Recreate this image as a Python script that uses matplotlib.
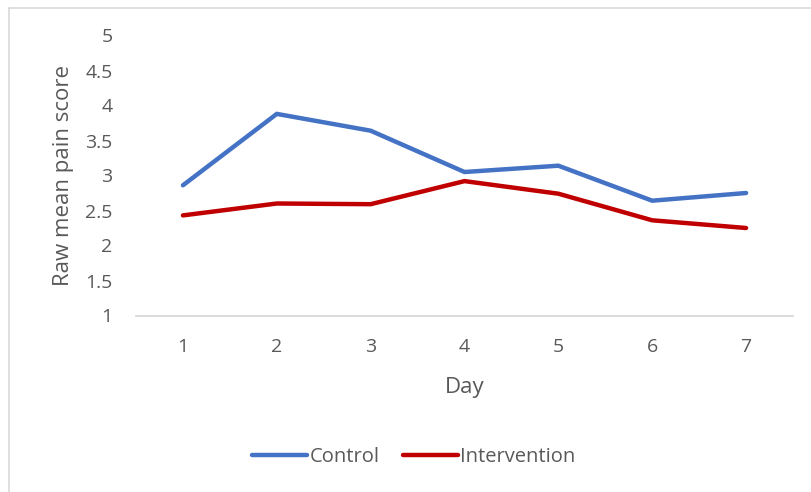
import numpy as np
import matplotlib.pyplot as plt
from matplotlib.lines import Line2D

# mean daily pain score per group
days = [1, 2, 3, 4, 5, 6, 7]
control = [2.86, 3.88, 3.64, 3.05, 3.14, 2.64, 2.75]
intervention = [2.43, 2.60, 2.59, 2.92, 2.74, 2.36, 2.25]
yticks = [1, 1.5, 2, 2.5, 3, 3.5, 4, 4.5, 5]

plt.rcParams['font.family'] = ['Open Sans', 'DejaVu Sans']
txt = '#595959'

fig = plt.figure(figsize=(8.11, 4.92), dpi=100)
ax = fig.add_axes([136/811, 1-315.5/492, (793-136)/811, (315.5-35.5)/492])

x = np.arange(len(days))
ax.plot(x, control, color='#4472C4', lw=3.2, solid_capstyle='round',
        solid_joinstyle='miter', label='Control')
ax.plot(x, intervention, color='#C00000', lw=3.2, solid_capstyle='round',
        solid_joinstyle='miter', label='Intervention')

ax.set_xlim(-0.5, len(days)-0.5)
ax.set_ylim(1, 5)
ax.set_xticks(x)
ax.set_xticklabels([str(d) for d in days])
ax.set_yticks(yticks)
ax.set_yticklabels(['%g' % v for v in yticks])
ax.tick_params(length=0, labelsize=14, colors=txt)
ax.tick_params(axis='x', pad=16)
ax.tick_params(axis='y', pad=17)
for s in ['top', 'right', 'left']:
    ax.spines[s].set_visible(False)
ax.spines['bottom'].set_color('#d9d9d9')
ax.spines['bottom'].set_linewidth(1.3)

ax.set_xlabel('Day', fontsize=16, color=txt, labelpad=15)
ax.set_ylabel('Raw mean pain score', fontsize=16, color=txt, labelpad=8)

handles = [Line2D([0], [0], color='#4472C4', lw=3.2, solid_capstyle='round'),
           Line2D([0], [0], color='#C00000', lw=3.2, solid_capstyle='round')]
leg = fig.legend(handles, ['Control', 'Intervention'], loc='center',
                 bbox_to_anchor=(414/811, 1-457/492), ncol=2, frameon=False,
                 fontsize=14.5, handlelength=2.7, handletextpad=0.12,
                 columnspacing=1.2)
for t in leg.get_texts():
    t.set_color(txt)

# chart frame edges
fig.add_artist(Line2D([8.5/811, 1], [1-7.5/492]*2, color='#d9d9d9', lw=1.2))
fig.add_artist(Line2D([8.5/811]*2, [0, 1-7.5/492], color='#d9d9d9', lw=1.2))

fig.savefig('out.png', dpi=100)
